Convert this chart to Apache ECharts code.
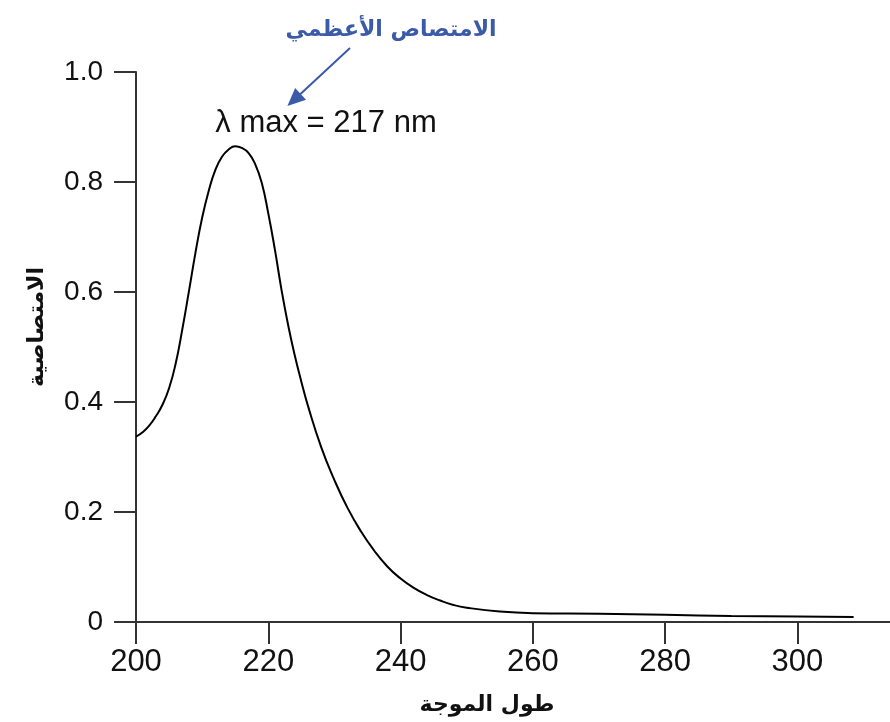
<!DOCTYPE html>
<html>
<head>
<meta charset="utf-8">
<script src="https://cdn.jsdelivr.net/npm/echarts@6/dist/echarts.min.js"></script>
<style>
  html, body { margin: 0; padding: 0; background: #fff; }
  #chart { width: 890px; height: 722px; }
</style>
</head>
<body>
<div id="chart"></div>
<script>
// wavelength (nm) and absorbance
const wavelength = [200, 201, 202, 203, 204, 205, 206, 207, 208, 209, 210, 211, 212, 213, 214, 215, 216, 217, 218, 219, 220, 221, 222, 223, 224, 225, 226, 228, 230, 232, 234, 236, 238, 240, 242, 244, 246, 248, 250, 255, 260, 270, 280, 290, 300, 308.5];
const absorbance = [0.337, 0.345, 0.357, 0.374, 0.395, 0.425, 0.47, 0.532, 0.601, 0.672, 0.735, 0.784, 0.822, 0.846, 0.859, 0.865, 0.862, 0.853, 0.833, 0.799, 0.743, 0.677, 0.604, 0.540, 0.485, 0.437, 0.393, 0.318, 0.258, 0.207, 0.165, 0.130, 0.101, 0.079, 0.062, 0.049, 0.039, 0.031, 0.026, 0.019, 0.016, 0.015, 0.013, 0.011, 0.010, 0.009];
const xTicks = [200, 220, 240, 260, 280, 300];
const yTickLabels = ['0', '0.2', '0.4', '0.6', '0.8', '1.0'];

const xName = 'طول الموجة';
const yName = 'الامتصاصية';
const peakNote = 'الامتصاص الأعظمي';
const peakLabel = 'λ max = 217 nm';

const numFont = "'Liberation Sans', Arial, sans-serif";
const arFont = "'DejaVu Sans', sans-serif";
const axisColor = '#333';
const blue = '#3b5aa8';

let points = [];
for (let i = 0; i < wavelength.length; i++) {
  points.push([wavelength[i], absorbance[i]]);
}

let chart = echarts.init(document.getElementById('chart'));

let option = {
  backgroundColor: '#fff',
  animation: false,
  grid: { left: 136, right: 0, top: 72, bottom: 100 },
  xAxis: {
    type: 'value',
    min: 200,
    max: 314,
    interval: 20,
    splitLine: { show: false },
    axisLine: { show: true, lineStyle: { color: axisColor, width: 2 } },
    axisTick: { show: true, length: 22, customValues: xTicks, lineStyle: { color: axisColor, width: 2 } },
    axisLabel: {
      customValues: xTicks,
      margin: 25,
      fontSize: 31,
      fontFamily: numFont,
      color: '#111'
    },
    name: xName,
    nameLocation: 'middle',
    nameGap: 72,
    nameTextStyle: {
      fontFamily: arFont,
      fontWeight: 'bold',
      fontSize: 22,
      color: '#111',
      padding: [0, 52, 0, 0]
    }
  },
  yAxis: {
    type: 'value',
    min: 0,
    max: 1,
    interval: 0.2,
    splitLine: { show: false },
    axisLine: { show: true, lineStyle: { color: axisColor, width: 2 } },
    axisTick: { show: true, length: 22, lineStyle: { color: axisColor, width: 2 } },
    axisLabel: {
      margin: 33,
      fontSize: 28,
      fontFamily: numFont,
      color: '#111',
      formatter: function (v) {
        return yTickLabels[Math.round(v / 0.2)];
      }
    },
    name: yName,
    nameLocation: 'middle',
    nameGap: 88,
    nameTextStyle: {
      fontFamily: arFont,
      fontWeight: 'bold',
      fontSize: 22,
      color: '#111',
      padding: [0, 0, 0, 40]
    }
  },
  series: [
    {
      type: 'line',
      data: points,
      smooth: 0.5,
      showSymbol: false,
      lineStyle: { color: '#000', width: 2 },
      markLine: {
        silent: true,
        symbol: ['none', 'triangle'],
        symbolSize: [16, 18],
        label: { show: false },
        lineStyle: { color: blue, width: 2, type: 'solid' },
        data: [[{ x: 350, y: 48 }, { x: 294, y: 100 }]]
      }
    }
  ],
  graphic: [
    {
      type: 'text',
      x: 391,
      y: 30,
      style: {
        text: peakNote,
        fill: blue,
        font: 'bold 22px ' + arFont,
        textAlign: 'center',
        textVerticalAlign: 'middle'
      }
    },
    {
      type: 'text',
      x: 326,
      y: 123,
      style: {
        text: peakLabel,
        fill: '#111',
        font: '31px ' + numFont,
        textAlign: 'center',
        textVerticalAlign: 'middle'
      }
    }
  ]
};

chart.setOption(option);
</script>
</body>
</html>
